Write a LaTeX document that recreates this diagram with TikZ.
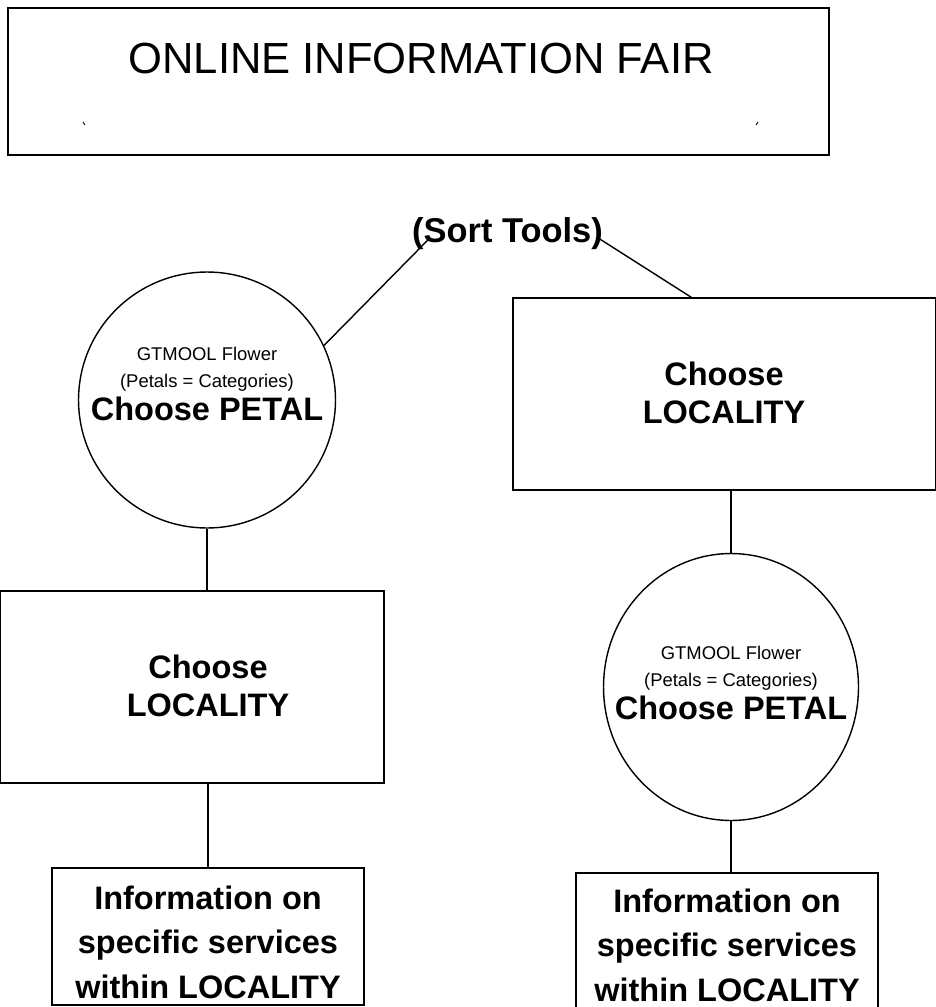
\documentclass[tikz,border=0pt]{standalone}
\usepackage{fontspec}
\setmainfont{Liberation Sans}
\usetikzlibrary{shapes.geometric}
\begin{document}
\begin{tikzpicture}[x=0.02cm, y=-0.02cm,
    box/.style={draw=black, line width=0.8pt, rectangle, inner sep=0pt},
    petal/.style={draw=black, line width=0.8pt, ellipse, inner sep=0pt},
    link/.style={draw=black, line width=0.8pt},
    bold/.style={font=\fontsize{18.5}{22}\selectfont\bfseries, align=center, inner sep=0pt},
    info/.style={font=\fontsize{18.5}{25.3}\selectfont\bfseries, align=center, inner sep=0pt},
    petaltext/.style={font=\fontsize{10.5}{15.4}\selectfont, align=center, inner sep=0pt}]
    \useasboundingbox (0,0) rectangle (936,1007);
    \draw[line width=0.8pt] (8,8) rectangle (829,155);
    \node[font=\fontsize{24.8}{30}\selectfont, inner sep=0pt] (title) at (421,59) {ONLINE INFORMATION FAIR};
    \draw[line width=0.5pt] (83,122) -- (85,125);
    \draw[line width=0.5pt] (758,122) -- (756,125);
    \node[font=\fontsize{19.6}{24}\selectfont\bfseries, inner sep=0pt, anchor=base] (sort) at (507.5,242) {(Sort Tools)};
    \node[petal, minimum width=5.14cm, minimum height=5.12cm] (petalA) at (207,400) {};
    \node[petaltext] (petalAtext) at (207,384) {GTMOOL Flower\\(Petals = Categories)\\[2pt]{\fontsize{18.5}{22}\selectfont\bfseries Choose PETAL}};
    \node[box, minimum width=8.46cm, minimum height=3.84cm] (locR) at (724.5,394) {};
    \node[bold] (locRtext) at (724,393) {Choose\\LOCALITY};
    \node[box, minimum width=7.68cm, minimum height=3.84cm] (locA) at (192,687) {};
    \node[bold] (locAtext) at (208,686) {Choose\\LOCALITY};
    \node[petal, minimum width=5.1cm, minimum height=5.34cm] (petalR) at (731,687) {};
    \node[petaltext] (petalRtext) at (731,683) {GTMOOL Flower\\(Petals = Categories)\\[2pt]{\fontsize{18.5}{22}\selectfont\bfseries Choose PETAL}};
    \node[box, minimum width=6.24cm, minimum height=2.74cm] (infoA) at (208,936.5) {};
    \node[info] (infoAtext) at (208,942) {Information on\\specific services\\within LOCALITY};
    \node[box, minimum width=6.04cm, minimum height=2.8cm] (infoR) at (727,943) {};
    \node[info] (infoRtext) at (727,945) {Information on\\specific services\\within LOCALITY};
    \draw[link] (petalA.25) -- ([xshift=0.32cm, yshift=0.04cm]sort.base west);
    \draw[link] ([xshift=-0.1cm, yshift=0.08cm]sort.base east) -- ([xshift=3.58cm]locR.north west);
    \draw[link] (petalA.south) -- (petalA.south |- locA.north);
    \draw[link] (infoA.north |- locA.south) -- (infoA.north);
    \draw[link] (petalR.north |- locR.south) -- (petalR.north);
    \draw[link] (petalR.south) -- (petalR.south |- infoR.north);
\end{tikzpicture}
\end{document}
